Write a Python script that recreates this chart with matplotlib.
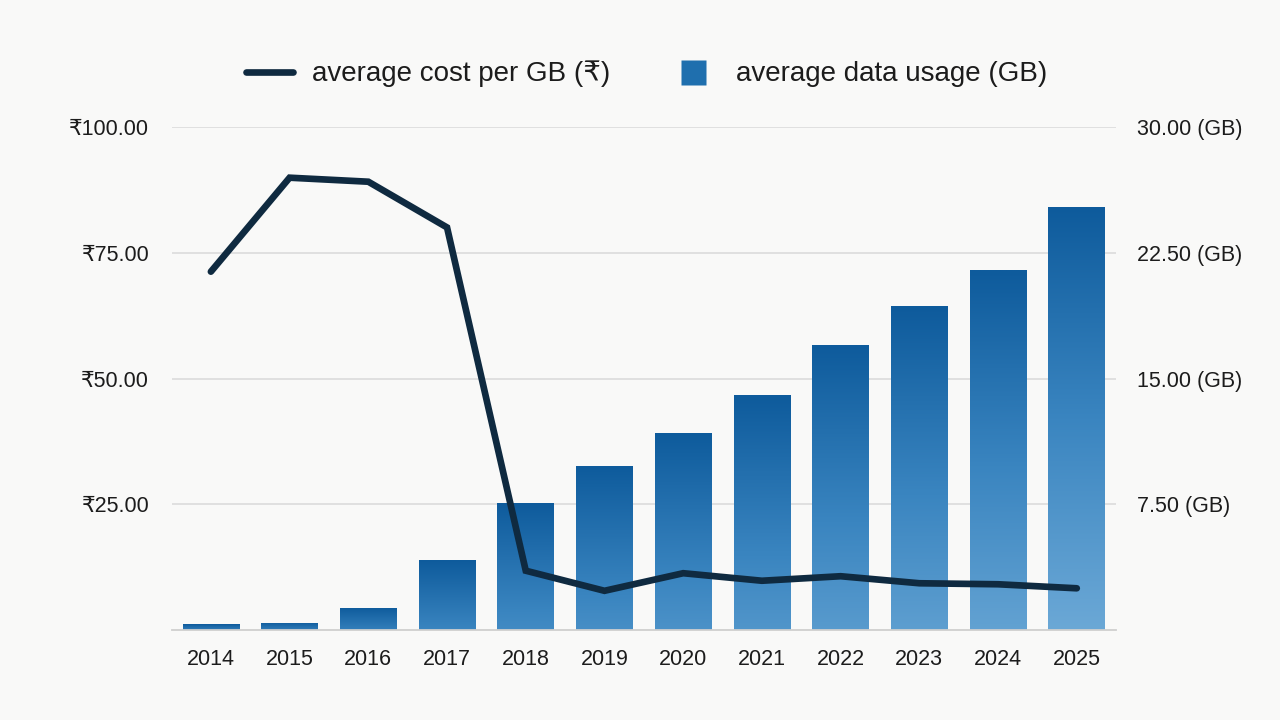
import matplotlib.pyplot as plt
import numpy as np
from matplotlib.colors import LinearSegmentedColormap
from matplotlib.lines import Line2D

plt.rcParams['font.family'] = ['Liberation Sans', 'DejaVu Sans']

years = ['2014', '2015', '2016', '2017', '2018', '2019',
         '2020', '2021', '2022', '2023', '2024', '2025']
data_gb = [0.34, 0.44, 1.33, 4.16, 7.6, 9.8, 11.77, 14.0, 17.04, 19.34, 21.5, 25.25]
cost_per_gb = [71.3, 90.0, 89.2, 80.1, 11.8, 7.8, 11.3, 9.8, 10.7, 9.3, 9.1, 8.3]

rupee_ticks = [25, 50, 75, 100]
gb_ticks = [7.5, 15, 22.5, 30]

bg = '#f9f9f8'
line_col = '#0f2a40'
txt = '#1c1c1c'

fig = plt.figure(figsize=(12.8, 7.2), dpi=100, facecolor=bg)
ax = fig.add_axes([0.134, 0.125, 0.738, 0.698])
ax2 = ax.twinx()
# bars (right axis) behind, line (left axis) in front
ax2.set_zorder(1)
ax.set_zorder(2)
ax.patch.set_visible(False)
ax2.set_facecolor(bg)

x = np.arange(len(years))
grad = LinearSegmentedColormap.from_list('g', ['#6ba8d6', '#3a85c0', '#0e5b9c'])
bars = ax2.bar(x, data_gb, 0.72, color='none', edgecolor='none', zorder=2)
hmax = max(data_gb)
for b in bars:
    h = b.get_height()
    x0 = b.get_x()
    # short bars stay darker at the bottom
    v0 = 0.6 * (1 - h / hmax)
    img = np.linspace(v0, 1, 256).reshape(-1, 1)
    im = ax2.imshow(img, cmap=grad, aspect='auto', origin='lower',
                    extent=[x0, x0 + b.get_width(), 0, h], zorder=2,
                    vmin=0, vmax=1)
    im.set_clip_path(b)

ax2.set_ylim(0, 30)
ax2.set_yticks(gb_ticks)
ax2.set_yticklabels(['%.2f (GB)' % v for v in gb_ticks])
ax2.yaxis.grid(True, color='#dcdcdc', lw=1.2, zorder=0)
ax2.set_axisbelow(True)

ax.plot(x, cost_per_gb, color=line_col, lw=4.8, solid_capstyle='round',
        solid_joinstyle='miter', zorder=5)
ax.set_ylim(0, 100)
ax.set_yticks(rupee_ticks)
ax.set_yticklabels(['₹%.2f' % v for v in rupee_ticks])
ax.set_xlim(-0.5, 11.5)
ax.set_xticks(x)
ax.set_xticklabels(years)

for a in (ax, ax2):
    for s in a.spines.values():
        s.set_visible(False)
    a.tick_params(length=0, labelsize=15.5, colors=txt)
ax2.spines['bottom'].set_visible(True)
ax2.spines['bottom'].set_color('#cfcfcf')
ax2.spines['bottom'].set_linewidth(1.3)
ax.tick_params(axis='y', pad=16)
ax.tick_params(axis='x', pad=14)
ax2.tick_params(axis='y', pad=15)

handles = [Line2D([0], [0], color=line_col, lw=4.8, solid_capstyle='round'),
           Line2D([0], [0], color='none', marker='s', markersize=18,
                  markerfacecolor='#1f6fae', markeredgecolor='none')]
fig.legend(handles, ['average cost per GB (₹)', 'average data usage (GB)'],
           loc='center', bbox_to_anchor=(0.505, 0.897), ncol=2, frameon=False,
           fontsize=20, handlelength=1.7, columnspacing=2.1,
           handletextpad=0.7, labelcolor=txt)

fig.savefig('out.png', dpi=100, facecolor=bg)
